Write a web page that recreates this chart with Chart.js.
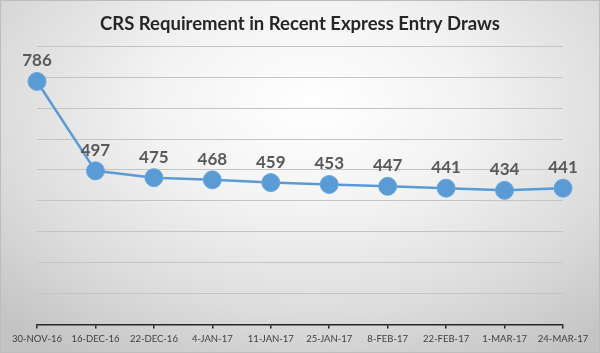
<!DOCTYPE html>
<html>
<head>
<meta charset="utf-8">
<script src="https://cdn.jsdelivr.net/npm/chart.js@4/dist/chart.umd.min.js"></script>
<style>
  html, body { margin: 0; padding: 0; background: #fff; }
  #wrap {
    width: 598px; height: 351px; border: 1px solid #bdbdbd;
    background: radial-gradient(ellipse 75% 85% at 52% 30%, #ffffff 0%, #f3f3f3 35%, #dcdcdc 70%, #c3c3c3 100%);
  }
</style>
</head>
<body>
<div id="wrap"><canvas id="c" width="598" height="351"></canvas></div>
<script>
// ── CRS draws data ──
const DRAW_DATES = ['30-NOV-16','16-DEC-16','22-DEC-16','4-JAN-17','11-JAN-17','25-JAN-17','8-FEB-17','22-FEB-17','1-MAR-17','24-MAR-17'];
const CRS_SCORES = [786, 497, 475, 468, 459, 453, 447, 441, 434, 441];
const Y_MIN = 0, Y_MAX = 900, Y_STEP = 100;

const FONT = 'Lato, "Open Sans", sans-serif';
const BLUE = '#5b9bd5';

// draws value labels above each point (no datalabels plugin offline)
const valueLabels = {
  id: 'valueLabels',
  afterDatasetsDraw(chart) {
    const ctx = chart.ctx;
    const meta = chart.getDatasetMeta(0);
    ctx.save();
    ctx.font = 'bold 17px ' + FONT;
    ctx.fillStyle = '#595959';
    ctx.textAlign = 'center';
    ctx.textBaseline = 'bottom';
    meta.data.forEach((pt, i) => {
      ctx.fillText(String(CRS_SCORES[i]), pt.x, pt.y - 12);
    });
    ctx.restore();
  }
};

new Chart(document.getElementById('c'), {
  type: 'line',
  data: {
    labels: DRAW_DATES,
    datasets: [{
      data: CRS_SCORES,
      borderColor: BLUE,
      borderWidth: 2.5,
      backgroundColor: BLUE,
      pointRadius: 9,
      pointBorderColor: '#6aa6dc',
      pointBorderWidth: 1,
      tension: 0
    }]
  },
  options: {
    responsive: false,
    animation: false,
    layout: { padding: { left: 36, right: 36, top: 8, bottom: 2 } },
    plugins: {
      legend: { display: false },
      tooltip: { enabled: false },
      title: {
        display: true,
        text: 'CRS Requirement in Recent Express Entry Draws',
        color: '#262626',
        font: { family: FONT, size: 18.5, weight: 'bold' },
        padding: { top: 4, bottom: 11 }
      }
    },
    scales: {
      x: {
        offset: false,
        grid: { drawOnChartArea: false, color: '#262626', tickLength: 4, lineWidth: 1.5 },
        border: { color: '#262626', width: 1.5 },
        ticks: { color: '#404040', font: { family: FONT, size: 9.5 }, maxRotation: 0, autoSkip: false, padding: 5 }
      },
      y: {
        min: Y_MIN, max: Y_MAX,
        grid: { color: '#c4c4c4', lineWidth: 1, drawTicks: false },
        border: { display: false },
        ticks: { display: false, stepSize: Y_STEP }
      }
    }
  },
  plugins: [valueLabels]
});
</script>
</body>
</html>
